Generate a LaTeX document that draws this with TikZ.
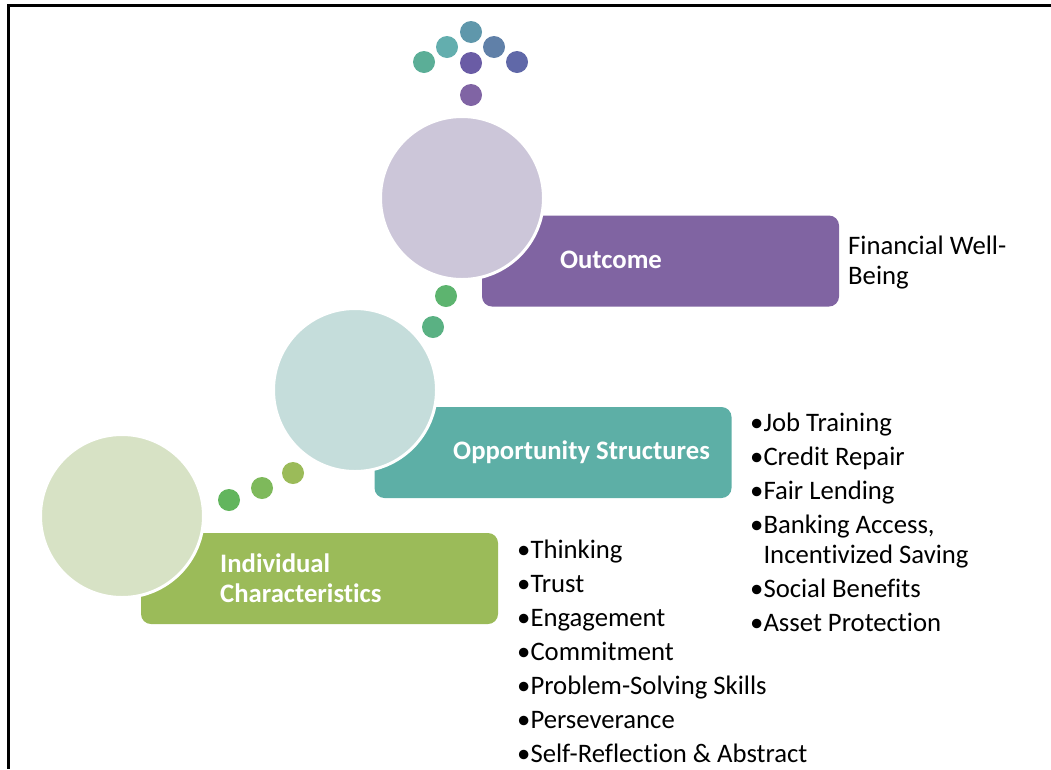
\documentclass[tikz,border=0pt]{standalone}
\usepackage{fontspec}
\setmainfont{Carlito}[Ligatures=NoCommon]
\usepackage{xcolor}
\usepackage{tikz}
\usetikzlibrary{shapes.geometric, positioning}
\definecolor{outcomeviolet}{HTML}{8064A2}
\definecolor{outcomelilac}{HTML}{CCC6D9}
\definecolor{structureteal}{HTML}{5DAFA6}
\definecolor{structuremist}{HTML}{C5DDDB}
\definecolor{traitolive}{HTML}{9BBB59}
\definecolor{traitsage}{HTML}{D7E2C5}
\definecolor{dotgreen}{HTML}{5DB46F}
\definecolor{dotsea}{HTML}{5AB183}
\definecolor{dotleaf}{HTML}{62B55D}
\definecolor{dotfern}{HTML}{7EB95B}
\definecolor{crownjade}{HTML}{5BAE97}
\definecolor{crownaqua}{HTML}{63AEAE}
\definecolor{crownsteel}{HTML}{5F97AB}
\definecolor{crownslate}{HTML}{6080A8}
\definecolor{crownindigo}{HTML}{6068A8}
\definecolor{crownplum}{HTML}{6A5CA5}
\definecolor{crownmauve}{HTML}{8064A4}

\tikzset{
  stagebox/.style={rectangle, rounded corners=10pt, inner sep=0pt, minimum width=357pt, minimum height=91pt},
  stagedisc/.style={circle, draw=white, line width=3pt, inner sep=0pt, minimum size=163pt},
  stagelabel/.style={white, font=\fontsize{26.7}{30}\selectfont\bfseries, align=left, inner sep=0pt},
  pathdot/.style={circle, inner sep=0pt, minimum size=22pt},
  itemlist/.style={black, font=\fontsize{26.7}{30}\selectfont, align=left, inner sep=0pt, anchor=north west}
}

\begin{document}
\begin{tikzpicture}[x=1pt, y=-1pt]
  \useasboundingbox (0,0) rectangle (1051,769);

  % Frame lines (top and left)
  \coordinate (frameright) at (1051,5);
  \coordinate (framecorner) at (8,5);
  \coordinate (framebottom) at (8,769);
  \draw[black, line width=3pt] (frameright) -- (framecorner) -- (framebottom);

  % Crown of dots above the outcome
  \node[pathdot, fill=crownjade] (crownA) at (424,62) {};
  \node[pathdot, fill=crownaqua] (crownB) at (447,47) {};
  \node[pathdot, fill=crownsteel] (crownC) at (471,32) {};
  \node[pathdot, fill=crownslate] (crownD) at (494,47) {};
  \node[pathdot, fill=crownindigo] (crownE) at (517,62) {};
  \node[pathdot, fill=crownplum] (crownF) at (471,63) {};
  \node[pathdot, fill=crownmauve] (crownG) at (471,95) {};

  % Stage 3: Outcome
  \node[stagebox, fill=outcomeviolet] (outcomebox) at (660.5,261) {};
  \node[stagedisc, fill=outcomelilac] (outcomedisc) at (462,198) {};
  \node[stagelabel] (outcomelabel) at (611,260) {Outcome};
  \node[itemlist] (outcomeitems) at (848,236) {Financial Well-\\Being};

  % Dots between stage 2 and stage 3
  \node[pathdot, fill=dotgreen] (stepupA) at (446,296) {};
  \node[pathdot, fill=dotsea] (stepupB) at (433,327) {};

  % Stage 2: Opportunity Structures
  \node[stagebox, fill=structureteal] (structurebox) at (553,452.5) {};
  \node[stagedisc, fill=structuremist] (structuredisc) at (355,390) {};
  \node[stagelabel, anchor=west] (structurelabel) at (453,452) {Opportunity Structures};
  \node[itemlist] (structureitems) at (750,413) {%
    •Job Training\\[4pt]
    •Credit Repair\\[4pt]
    •Fair Lending\\[4pt]
    •Banking Access,\\
    \phantom{•}Incentivized Saving\\[4pt]
    •Social Benefits\\[4pt]
    •Asset Protection};

  % Dots between stage 1 and stage 2
  \node[pathdot, fill=traitolive] (stepA) at (293,473) {};
  \node[pathdot, fill=dotfern] (stepB) at (262,488) {};
  \node[pathdot, fill=dotleaf] (stepC) at (229,500) {};

  % Stage 1: Individual Characteristics
  \node[stagebox, fill=traitolive] (traitbox) at (319.5,578.5) {};
  \node[stagedisc, fill=traitsage] (traitdisc) at (122,516) {};
  \node[stagelabel, anchor=west] (traitlabel) at (220,578) {Individual\\Characteristics};
  \node[itemlist] (traititems) at (517,540) {%
    •Thinking\\[4pt]
    •Trust\\[4pt]
    •Engagement\\[4pt]
    •Commitment\\[4pt]
    •Problem-Solving Skills\\[4pt]
    •Perseverance\\[4pt]
    •Self-Reflection \& Abstract};
\end{tikzpicture}
\end{document}
